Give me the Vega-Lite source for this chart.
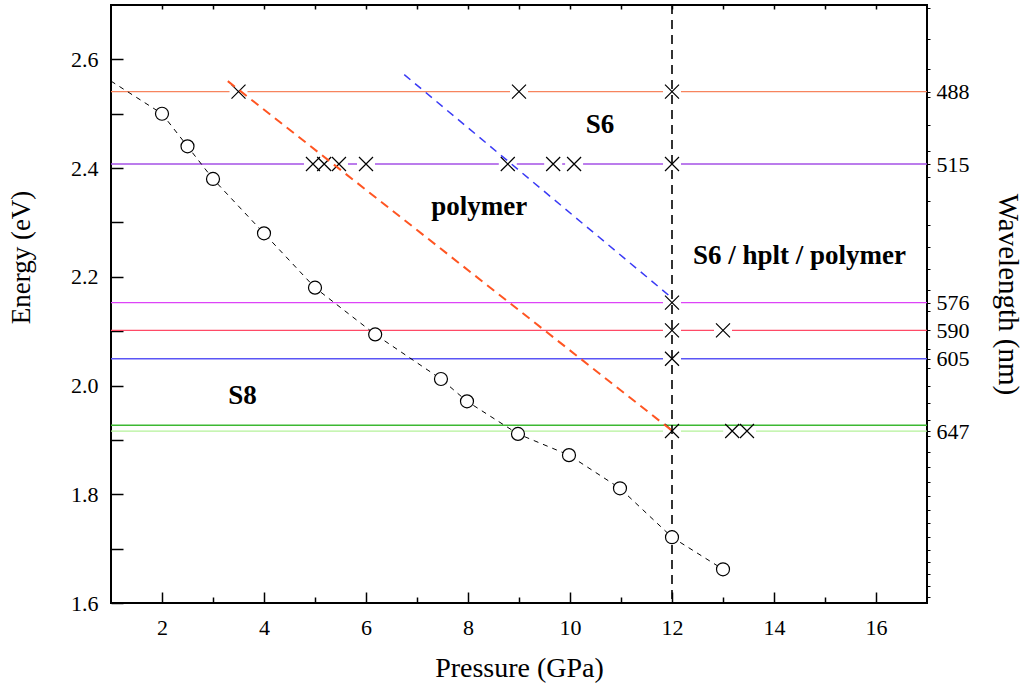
{
  "$schema": "https://vega.github.io/schema/vega-lite/v6.json",
  "width": 816,
  "height": 598,
  "autosize": {"type": "none"},
  "padding": {"left": 111, "top": 5, "right": 99, "bottom": 88},
  "background": "white",
  "config": {
    "font": "Liberation Serif",
    "view": {"stroke": "black", "strokeWidth": 2},
    "axis": {"domain": false, "grid": false, "labelColor": "black", "titleColor": "black", "tickColor": "black", "labelFont": "Liberation Serif", "titleFont": "Liberation Serif", "labelFontSize": 22, "titleFontSize": 26, "titleFontWeight": 400}
  },
  "datasets": {
    "hlines": [
      {"line": "488", "E": 2.5407},
      {"line": "515", "E": 2.4075},
      {"line": "576", "E": 2.1525},
      {"line": "590", "E": 2.1014},
      {"line": "605", "E": 2.0493},
      {"line": "644", "E": 1.927},
      {"line": "647", "E": 1.9163}
    ],
    "crosses": [
      {"P": 3.5, "E": 2.5407}, {"P": 9.0, "E": 2.5407}, {"P": 12.0, "E": 2.5407},
      {"P": 4.96, "E": 2.4075}, {"P": 5.18, "E": 2.4075}, {"P": 5.47, "E": 2.4075}, {"P": 6.0, "E": 2.4075},
      {"P": 8.78, "E": 2.4075}, {"P": 9.67, "E": 2.4075}, {"P": 10.08, "E": 2.4075}, {"P": 12.0, "E": 2.4075},
      {"P": 12.0, "E": 2.1525},
      {"P": 12.0, "E": 2.1014}, {"P": 13.0, "E": 2.1014},
      {"P": 12.0, "E": 2.0493},
      {"P": 12.0, "E": 1.9163}, {"P": 13.18, "E": 1.9163}, {"P": 13.47, "E": 1.9163}
    ],
    "s8line": [
      {"P": 1.0, "E": 2.56},
      {"P": 2.0, "E": 2.50}, {"P": 2.5, "E": 2.44}, {"P": 3.0, "E": 2.38}, {"P": 4.0, "E": 2.28},
      {"P": 5.0, "E": 2.18}, {"P": 6.18, "E": 2.094}, {"P": 7.47, "E": 2.012}, {"P": 7.98, "E": 1.971},
      {"P": 8.98, "E": 1.911}, {"P": 9.98, "E": 1.872}, {"P": 10.98, "E": 1.811}, {"P": 12.0, "E": 1.721},
      {"P": 13.0, "E": 1.662}
    ],
    "circles": [
      {"P": 2.0, "E": 2.50}, {"P": 2.5, "E": 2.44}, {"P": 3.0, "E": 2.38}, {"P": 4.0, "E": 2.28},
      {"P": 5.0, "E": 2.18}, {"P": 6.18, "E": 2.094}, {"P": 7.47, "E": 2.012}, {"P": 7.98, "E": 1.971},
      {"P": 8.98, "E": 1.911}, {"P": 9.98, "E": 1.872}, {"P": 10.98, "E": 1.811}, {"P": 12.0, "E": 1.721},
      {"P": 13.0, "E": 1.662}
    ],
    "dashes": [
      {"series": "polymer", "P": 3.29, "E": 2.56}, {"series": "polymer", "P": 12.0, "E": 1.917},
      {"series": "S6", "P": 6.75, "E": 2.572}, {"series": "S6", "P": 12.0, "E": 2.161}
    ],
    "vline": [{"P": 12.0}],
    "labels": [
      {"text": "S6", "P": 10.59, "E": 2.479},
      {"text": "polymer", "P": 8.22, "E": 2.328},
      {"text": "S6 / hplt / polymer", "P": 14.5, "E": 2.238},
      {"text": "S8", "P": 3.58, "E": 1.981}
    ]
  },
  "resolve": {"axis": {"x": "independent", "y": "independent"}},
  "layer": [
    {
      "data": {"name": "hlines"},
      "mark": {"type": "rule", "strokeWidth": 1.3},
      "encoding": {
        "y": {"field": "E", "type": "quantitative",
          "scale": {"domain": [1.6, 2.7], "nice": false, "zero": false},
          "axis": {"orient": "left", "values": [1.6, 1.7, 1.8, 1.9, 2.0, 2.1, 2.2, 2.3, 2.4, 2.5, 2.6],
            "labelExpr": "round(datum.value*10) % 2 == 0 ? format(datum.value, '.1f') : ''",
            "tickSize": -12, "tickWidth": 1.5, "labelPadding": 25,
            "title": "Energy (eV)", "titleFontWeight": 400, "titleFontSize": 27, "titleAngle": -90, "titleX": -90, "titleY": 252, "titleAlign": "center", "titleBaseline": "middle"}},
        "color": {"field": "line", "type": "nominal", "legend": null,
          "scale": {"domain": ["488", "515", "576", "590", "605", "644", "647"],
                    "range": ["#f7845e", "#a451e6", "#dd44f8", "#ff4a66", "#5a55f5", "#3cb832", "#b4f29a"]}},
        "strokeWidth": {"condition": {"test": "datum.line == '647'", "value": 2.5}, "value": 1.3}
      }
    },
    {
      "data": {"name": "crosses"},
      "mark": {"type": "point", "shape": "M-1,-0.25H1V0.25H-1Z", "filled": true, "fill": "white", "strokeWidth": 0, "opacity": 1, "size": 324},
      "encoding": {
        "x": {"field": "P", "type": "quantitative",
          "scale": {"domain": [1, 17], "nice": false, "zero": false},
          "axis": {"orient": "bottom", "values": [2, 4, 6, 8, 10, 12, 14, 16],
            "tickSize": -11, "tickWidth": 1.5, "labelPadding": 35, "labelBaseline": "middle",
            "title": "Pressure (GPa)", "titleFontWeight": 400, "titleFontSize": 28, "titleY": 65, "titleBaseline": "middle"}},
        "y": {"field": "E", "type": "quantitative", "scale": {"domain": [1.6, 2.7], "nice": false, "zero": false}, "axis": null}
      }
    },
    {
      "data": {"name": "crosses"},
      "mark": {"type": "point", "shape": "M-1,-1L1,1M1,-1L-1,1", "filled": false, "stroke": "black", "strokeWidth": 1.2, "opacity": 1, "size": 196},
      "encoding": {
        "x": {"field": "P", "type": "quantitative",
          "scale": {"domain": [1, 17], "nice": false, "zero": false},
          "axis": {"orient": "top", "values": [2, 3, 4, 5, 6, 7, 8, 9, 10, 11, 12, 13, 14, 15, 16], "labels": false, "tickSize": -4, "tickWidth": 1.5, "title": null}},
        "y": {"field": "E", "type": "quantitative",
          "scale": {"domain": [1.6, 2.7], "nice": false, "zero": false},
          "axis": {"orient": "right",
            "values": [2.6953, 2.638, 2.583, 2.5407, 2.5303, 2.4797, 2.4311, 2.4075, 2.3843, 2.3393, 2.296, 2.2543, 2.214, 2.1752, 2.1525, 2.1377, 2.1014, 2.0664, 2.0493, 2.0325, 1.9997, 1.968, 1.9373, 1.9163, 1.9074, 1.8785, 1.8505, 1.8233, 1.7969, 1.7712, 1.7463, 1.722, 1.6984, 1.6755, 1.6531, 1.6314, 1.6102],
            "labelExpr": "indexof([2.5407, 2.4075, 2.1525, 2.1014, 2.0493, 1.9163], datum.value) >= 0 ? format(1239.84 / datum.value, '.0f') : ''",
            "tickSize": 3, "tickWidth": 1, "labelPadding": 6,
            "title": "Wavelength (nm)", "titleFontWeight": 400, "titleFontSize": 29, "titleAngle": 90, "titleX": 80, "titleY": 289, "titleAlign": "center", "titleBaseline": "middle"}}
      }
    },
    {
      "data": {"name": "vline"},
      "mark": {"type": "rule", "color": "black", "strokeWidth": 1.6, "strokeDash": [9, 6]},
      "encoding": {
        "x": {"field": "P", "type": "quantitative", "scale": {"domain": [1, 17], "nice": false, "zero": false},
          "axis": {"orient": "bottom", "values": [3, 5, 7, 9, 11, 13, 15], "labels": false, "tickSize": -6, "tickWidth": 1.5, "title": null}}
      }
    },
    {
      "data": {"name": "s8line"},
      "mark": {"type": "line", "color": "black", "strokeWidth": 1, "strokeDash": [5, 5]},
      "encoding": {
        "x": {"field": "P", "type": "quantitative", "scale": {"domain": [1, 17], "nice": false, "zero": false}, "axis": null},
        "y": {"field": "E", "type": "quantitative", "scale": {"domain": [1.6, 2.7], "nice": false, "zero": false}, "axis": null}
      }
    },
    {
      "data": {"name": "circles"},
      "mark": {"type": "point", "shape": "circle", "filled": false, "fill": "white", "fillOpacity": 1, "stroke": "black", "strokeWidth": 1.2, "opacity": 1, "size": 169},
      "encoding": {
        "x": {"field": "P", "type": "quantitative", "scale": {"domain": [1, 17], "nice": false, "zero": false}, "axis": null},
        "y": {"field": "E", "type": "quantitative", "scale": {"domain": [1.6, 2.7], "nice": false, "zero": false}, "axis": null}
      }
    },
    {
      "data": {"name": "dashes"},
      "transform": [{"filter": "datum.series == 'polymer'"}],
      "mark": {"type": "line", "color": "#ff5522", "strokeWidth": 2, "strokeDash": [9, 6]},
      "encoding": {
        "x": {"field": "P", "type": "quantitative", "scale": {"domain": [1, 17], "nice": false, "zero": false}, "axis": null},
        "y": {"field": "E", "type": "quantitative", "scale": {"domain": [1.6, 2.7], "nice": false, "zero": false}, "axis": null}
      }
    },
    {
      "data": {"name": "dashes"},
      "transform": [{"filter": "datum.series == 'S6'"}],
      "mark": {"type": "line", "color": "#3a3af5", "strokeWidth": 1.5, "strokeDash": [8, 6]},
      "encoding": {
        "x": {"field": "P", "type": "quantitative", "scale": {"domain": [1, 17], "nice": false, "zero": false}, "axis": null},
        "y": {"field": "E", "type": "quantitative", "scale": {"domain": [1.6, 2.7], "nice": false, "zero": false}, "axis": null}
      }
    },
    {
      "data": {"name": "labels"},
      "mark": {"type": "text", "font": "Liberation Serif", "fontWeight": "bold", "fontSize": 27, "color": "black", "align": "center", "baseline": "middle"},
      "encoding": {
        "x": {"field": "P", "type": "quantitative", "scale": {"domain": [1, 17], "nice": false, "zero": false}, "axis": null},
        "y": {"field": "E", "type": "quantitative", "scale": {"domain": [1.6, 2.7], "nice": false, "zero": false}, "axis": null},
        "text": {"field": "text", "type": "nominal"}
      }
    }
  ]
}
